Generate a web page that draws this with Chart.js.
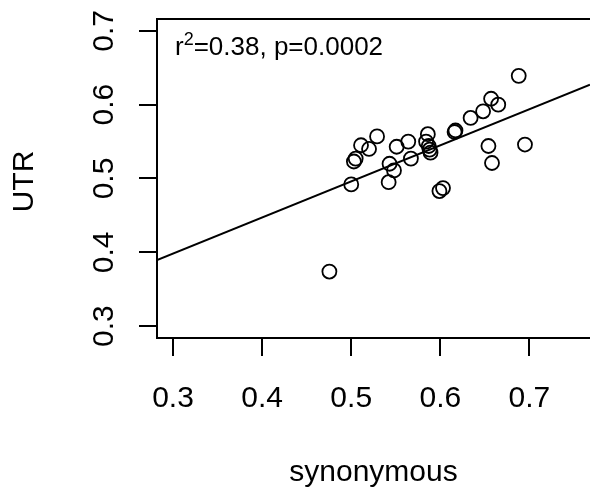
<!DOCTYPE html>
<html>
<head>
<meta charset="utf-8">
<script src="https://cdn.jsdelivr.net/npm/chart.js@4.4.1/dist/chart.umd.min.js"></script>
<style>
  html, body { margin: 0; padding: 0; background: #fff; overflow: hidden; }
  canvas { display: block; }
</style>
</head>
<body>
<canvas id="scatter" width="590" height="492"></canvas>
<script>
// --- DATA ---
const synonymous = [0.4755, 0.500, 0.503, 0.505, 0.511, 0.520, 0.529, 0.542, 0.543, 0.548,
                    0.551, 0.564, 0.567, 0.584, 0.586, 0.587, 0.588, 0.589, 0.599, 0.603,
                    0.616, 0.617, 0.634, 0.648, 0.654, 0.657, 0.658, 0.665, 0.688, 0.695];
const utr        = [0.374, 0.492, 0.523, 0.527, 0.545, 0.540, 0.557, 0.495, 0.520, 0.511,
                    0.543, 0.550, 0.527, 0.550, 0.560, 0.544, 0.539, 0.535, 0.483, 0.487,
                    0.563, 0.565, 0.582, 0.591, 0.544, 0.608, 0.521, 0.600, 0.639, 0.546];
const xTicks = [0.3, 0.4, 0.5, 0.6, 0.7];
const yTicks = [0.3, 0.4, 0.5, 0.6, 0.7];
const xRange = [0.282, 0.768];
const yRange = [0.284, 0.716];
// fitted line
const fitSlope = 0.4886;
const fitIntercept = 0.2517;

const FONT = '"Liberation Sans", Arial, Helvetica, sans-serif';

// --- TEXT + BOX (R style) ---
const rText = {
  id: 'rText',
  afterDraw(chart) {
    const ctx = chart.ctx;
    const area = chart.chartArea;
    const xs = chart.scales.x, ys = chart.scales.y;
    ctx.save();
    ctx.fillStyle = '#000';
    ctx.strokeStyle = '#000';
    ctx.lineWidth = 2;

    // top edge of box (right edge falls off the canvas)
    ctx.beginPath();
    ctx.moveTo(area.left, area.top);
    ctx.lineTo(chart.width + 5, area.top);
    ctx.stroke();

    ctx.font = '30px ' + FONT;
    ctx.textAlign = 'center';
    ctx.textBaseline = 'alphabetic';
    xTicks.forEach(v => ctx.fillText(String(v), xs.getPixelForValue(v), 407));

    yTicks.forEach(v => {
      ctx.save();
      ctx.translate(113, ys.getPixelForValue(v));
      ctx.rotate(-Math.PI / 2);
      ctx.fillText(String(v), 0, 0);
      ctx.restore();
    });

    // axis titles
    ctx.fillText('synonymous', (area.left + area.right) / 2, 481);
    ctx.save();
    ctx.translate(33, (area.top + area.bottom) / 2 + 3);
    ctx.rotate(-Math.PI / 2);
    ctx.fillText('UTR', 0, 0);
    ctx.restore();

    // r^2 annotation
    ctx.textAlign = 'left';
    ctx.font = '26px ' + FONT;
    let x = 175;
    const base = 55;
    ctx.fillText('r', x, base);
    x += ctx.measureText('r').width;
    ctx.font = '18px ' + FONT;
    ctx.fillText('2', x, base - 10);
    x += ctx.measureText('2').width;
    ctx.font = '26px ' + FONT;
    ctx.fillText('=0.38, p=0.0002', x, base);
    ctx.restore();
  }
};

const pts = synonymous.map((v, i) => ({ x: v, y: utr[i] }));
const fitLine = xRange.map(v => ({ x: v, y: fitIntercept + fitSlope * v }));

const axisCommon = {
  type: 'linear',
  grid: { drawOnChartArea: false, drawTicks: true, tickLength: 18, lineWidth: 2, color: '#000' },
  border: { display: true, color: '#000', width: 2 },
  ticks: { display: false }
};

new Chart(document.getElementById('scatter'), {
  type: 'scatter',
  data: {
    datasets: [
      {
        data: pts,
        pointStyle: 'circle',
        pointRadius: 7,
        pointHoverRadius: 7,
        borderColor: '#000',
        borderWidth: 1.8,
        backgroundColor: 'rgba(0,0,0,0)'
      },
      {
        type: 'line',
        data: fitLine,
        borderColor: '#000',
        borderWidth: 2,
        pointRadius: 0,
        fill: false
      }
    ]
  },
  options: {
    responsive: false,
    animation: false,
    devicePixelRatio: 1,
    layout: { autoPadding: false, padding: { top: 19, right: 0, left: 0, bottom: 0 } },
    plugins: { legend: { display: false }, tooltip: { enabled: false } },
    scales: {
      x: Object.assign({}, axisCommon, {
        min: xRange[0], max: xRange[1],
        afterBuildTicks: s => { s.ticks = xTicks.map(v => ({ value: v })); },
        afterFit: s => { s.height = 154; }
      }),
      y: Object.assign({}, axisCommon, {
        min: yRange[0], max: yRange[1],
        afterBuildTicks: s => { s.ticks = yTicks.map(v => ({ value: v })); },
        afterFit: s => { s.width = 157; }
      })
    }
  },
  plugins: [rText]
});
</script>
</body>
</html>
